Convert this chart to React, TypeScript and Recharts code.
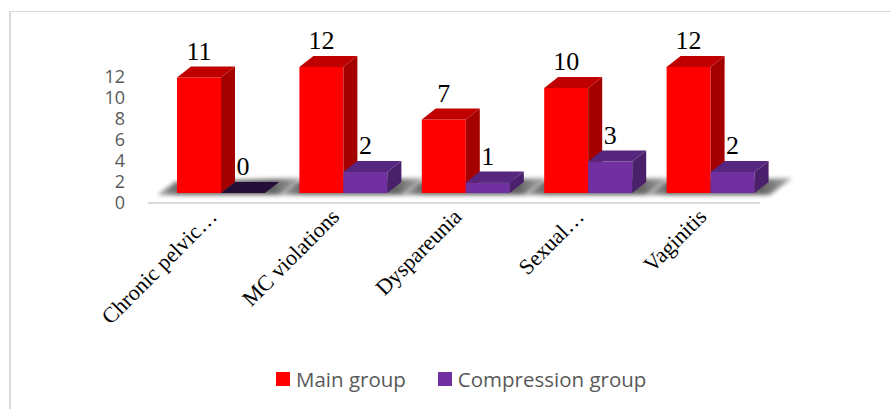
import React from "react";
import { BarChart, Bar, XAxis, YAxis, LabelList, Legend } from "recharts";

const categories = ["Chronic pelvic…", "MC violations", "Dyspareunia", "Sexual…", "Vaginitis"];
const mainGroup = [11, 12, 7, 10, 12];
const compressionGroup = [0, 2, 1, 3, 2];
const yTicks = [0, 2, 4, 6, 8, 10, 12];

const data = categories.map((name, i) => ({
  name,
  main: mainGroup[i],
  compression: compressionGroup[i],
}));

// bars sit a bit behind the axis plane (3D look)
const SHIFT_X = 12;
const SHIFT_Y = -10;
const DEPTH_X = 14;
const DEPTH_Y = -11;

const SERIF = "'Times New Roman', 'Liberation Serif', serif";
const SANS = "'Open Sans', 'Noto Sans', sans-serif";

const RED = { front: "#ff0000", top: "#c00000", side: "#a50000" };
const PURPLE = { front: "#7030a0", top: "#57267f", side: "#4a1f6c", empty: "#240d36" };

function Box(props: any) {
  const { x, y, width, height, colors, floor, index } = props;
  const x0 = x + SHIFT_X;
  const y0 = y + SHIFT_Y;
  const h = Math.max(0, height);
  const base = y0 + h;
  const topFill = h < 1 ? colors.empty ?? colors.top : colors.top;
  return (
    <g>
      {floor && (
        <g>
          <defs>
            <filter id={`blur-${index}`} x="-20%" y="-80%" width="140%" height="260%">
              <feGaussianBlur stdDeviation="2.2" />
            </filter>
            <linearGradient id={`floor-${index}`} x1="0" y1="0" x2="1" y2="0">
              <stop offset="0" stopColor="#9a9a9a" />
              <stop offset="0.15" stopColor="#4a4a4a" />
              <stop offset="0.8" stopColor="#4a4a4a" />
              <stop offset="1" stopColor="#a8a8a8" />
            </linearGradient>
          </defs>
          <polygon
            points={`${x0 - 20},${base + 2} ${x0 + width * 2 + 15},${base + 2} ${x0 + width * 2 + 38},${base - 15} ${x0 - 2},${base - 11}`}
            fill={`url(#floor-${index})`}
            opacity={0.85}
            filter={`url(#blur-${index})`}
          />
        </g>
      )}
      {h > 0 && <rect x={x0} y={y0} width={width} height={h} fill={colors.front} />}
      <polygon
        points={`${x0 + width},${y0} ${x0 + width + DEPTH_X},${y0 + DEPTH_Y} ${x0 + width + DEPTH_X},${base + DEPTH_Y} ${x0 + width},${base}`}
        fill={colors.side}
      />
      <polygon
        points={`${x0},${y0} ${x0 + DEPTH_X},${y0 + DEPTH_Y} ${x0 + width + DEPTH_X},${y0 + DEPTH_Y} ${x0 + width},${y0}`}
        fill={topFill}
      />
    </g>
  );
}

function ValueLabel(props: any) {
  const { x, y, width, value } = props;
  return (
    <text
      x={x + SHIFT_X + width / 2}
      y={y + SHIFT_Y - 18}
      textAnchor="middle"
      fontFamily={SERIF}
      fontSize={26}
      fill="#000"
    >
      {value}
    </text>
  );
}

function CategoryTick(props: any) {
  const { x, y, payload } = props;
  const tx = x + 9;
  const ty = y + 15;
  return (
    <text
      x={tx}
      y={ty}
      transform={`rotate(-45, ${tx}, ${ty})`}
      textAnchor="end"
      fontFamily={SERIF}
      fontSize={22}
      fill="#000"
    >
      {payload.value}
    </text>
  );
}

function LegendContent() {
  const items = [
    { label: "Main group", color: RED.front },
    { label: "Compression group", color: PURPLE.front },
  ];
  return (
    <div style={{ display: "flex", alignItems: "center", gap: 32, fontFamily: SANS, fontSize: 20.5, color: "#595959" }}>
      {items.map((it) => (
        <div key={it.label} style={{ display: "flex", alignItems: "center", gap: 6, whiteSpace: "nowrap" }}>
          <span style={{ display: "inline-block", width: 14, height: 14, background: it.color }} />
          <span style={{ lineHeight: "20px" }}>{it.label}</span>
        </div>
      ))}
    </div>
  );
}

export default function App() {
  return (
    <div style={{ position: "absolute", left: 0, top: 0, width: 891, height: 409, background: "#fff" }}>
      <div style={{ position: "absolute", left: 9, top: 11, width: 882, height: 1, background: "#d9d9d9" }} />
      <div style={{ position: "absolute", left: 9, top: 11, width: 2, height: 398, background: "#d9d9d9" }} />
      <BarChart
        width={891}
        height={409}
        data={data}
        margin={{ top: 77, right: 131, bottom: 56, left: 0 }}
        barGap={0}
        barSize={44}
      >
        <XAxis
          dataKey="name"
          interval={0}
          height={150}
          tickLine={false}
          tickSize={0}
          tickMargin={0}
          axisLine={{ stroke: "#d9d9d9", strokeWidth: 2 }}
          tick={<CategoryTick />}
        />
        <YAxis
          domain={[0, 12]}
          ticks={yTicks}
          interval={0}
          width={148}
          tickLine={false}
          axisLine={false}
          tickSize={0}
          tickMargin={23}
          tick={{ fill: "#595959", fontSize: 18, fontFamily: SANS }}
        />
        <Legend
          verticalAlign="middle"
          align="center"
          content={<LegendContent />}
          wrapperStyle={{ top: 369, left: 276, width: "auto", height: 20 }}
        />
        <Bar
          dataKey="main"
          name="Main group"
          fill={RED.front}
          isAnimationActive={false}
          shape={(p: any) => <Box {...p} colors={RED} floor />}
        >
          <LabelList dataKey="main" content={<ValueLabel />} />
        </Bar>
        <Bar
          dataKey="compression"
          name="Compression group"
          fill={PURPLE.front}
          isAnimationActive={false}
          shape={(p: any) => <Box {...p} colors={PURPLE} />}
        >
          <LabelList dataKey="compression" content={<ValueLabel />} />
        </Bar>
      </BarChart>
    </div>
  );
}
